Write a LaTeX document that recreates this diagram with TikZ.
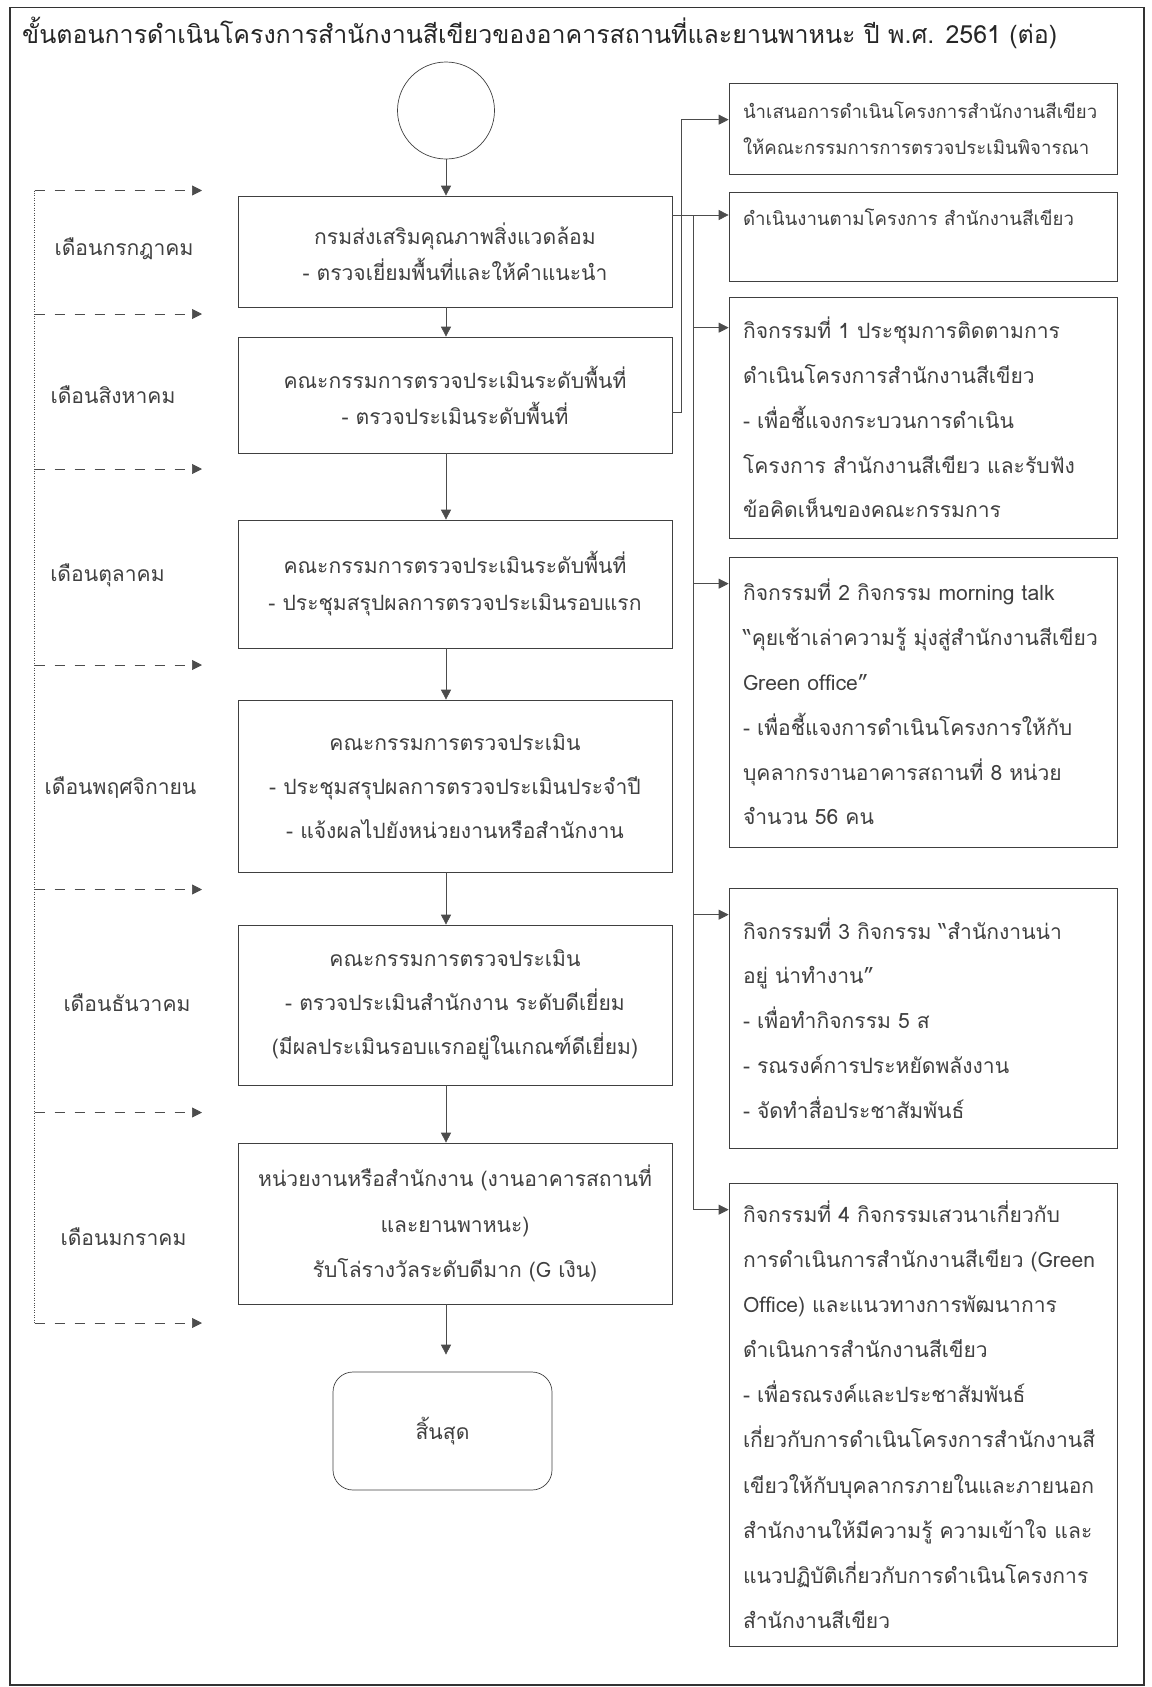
\documentclass[tikz,border=0pt]{standalone}
\usepackage{fontspec}
\newfontfamily\thaifont[Script=Thai]{Loma}
\usetikzlibrary{arrows.meta}

\begin{document}
\begin{tikzpicture}[
    every node/.style={text=black!75},
    th/.style={font=\thaifont\fontsize{12}{#1}\selectfont},
    thsmall/.style={font=\thaifont\fontsize{10.6}{#1}\selectfont},
    box/.style={draw=black!75, rectangle, align=center, minimum width=8.68cm, th=#1},
    rbox/.style={draw=black!75, rectangle, align=left, text width=7.2cm, inner xsep=0.28cm, th=#1},
    arr/.style={draw=black!70, -{Triangle[length=2mm,width=2mm]}},
    tick/.style={draw=black!70, dash pattern=on 2mm off 2mm, -{Triangle[length=2mm,width=2mm]}},
    month/.style={th=16pt}
  ]
  \useasboundingbox (0,0) rectangle (23.02,-33.74);
  \draw[black!80, line width=0.8pt] (0.2,-0.15) rectangle (22.88,-33.70);

  \node[font=\thaifont\fontsize{14.2}{17}\selectfont, text=black!85, anchor=west] (title) at (0.32,-0.66) {ขั้นตอนการดำเนินโครงการสำนักงานสีเขียวของอาคารสถานที่และยานพาหนะ ปี พ.ศ. 2561 (ต่อ)};

  \node[circle, draw=black!75, minimum size=1.94cm] (start) at (8.92,-2.21) {};

  \node[box=20.5pt, minimum height=2.22cm] (b1) at (9.10,-5.03) {กรมส่งเสริมคุณภาพสิ่งแวดล้อม\\- ตรวจเยี่ยมพื้นที่และให้คำแนะนำ};
  \node[box=20.5pt, minimum height=2.32cm] (b2) at (9.10,-7.90) {คณะกรรมการตรวจประเมินระดับพื้นที่\\- ตรวจประเมินระดับพื้นที่};
  \node[box=21pt, minimum height=2.56cm] (b3) at (9.10,-11.68) {คณะกรรมการตรวจประเมินระดับพื้นที่\\- ประชุมสรุปผลการตรวจประเมินรอบแรก};
  \node[box=25pt, minimum height=3.44cm] (b4) at (9.10,-15.72) {คณะกรรมการตรวจประเมิน\\- ประชุมสรุปผลการตรวจประเมินประจำปี\\- แจ้งผลไปยังหน่วยงานหรือสำนักงาน};
  \node[box=25pt, minimum height=3.20cm] (b5) at (9.10,-20.10) {คณะกรรมการตรวจประเมิน\\- ตรวจประเมินสำนักงาน ระดับดีเยี่ยม\\(มีผลประเมินรอบแรกอยู่ในเกณฑ์ดีเยี่ยม)};
  \node[box=26pt, minimum height=3.22cm] (b6) at (9.10,-24.47) {หน่วยงานหรือสำนักงาน (งานอาคารสถานที่\\และยานพาหนะ)\\รับโล่รางวัลระดับดีมาก (G เงิน)};

  \node[draw=black!75, rounded corners=0.4cm, minimum width=4.38cm, minimum height=2.36cm, th=16pt] (end) at (8.85,-28.62) {สิ้นสุด};

  \draw[arr] (start.south) -- (start.south |- b1.north);
  \draw[arr] (start |- b1.south) -- (start |- b2.north);
  \draw[arr] (start |- b2.south) -- (start |- b3.north);
  \draw[arr] (start |- b3.south) -- (start |- b4.north);
  \draw[arr] (start |- b4.south) -- (start |- b5.north);
  \draw[arr] (start |- b5.south) -- (start |- b6.north);
  \draw[arr, shorten >=0.34cm] (start |- b6.south) -- (start |- end.north);

  % months
  \foreach \y [count=\i] in {-3.81,-6.28,-9.38,-13.30,-17.79,-22.25,-26.46} {
    \coordinate (ta\i) at (0.69,\y);
    \coordinate (tb\i) at (4.04,\y);
    \draw[tick] (ta\i) -- (tb\i);
  }
  \draw[black!70, densely dotted] (ta1) -- (ta7);

  \node[month] (m1) at (2.48,-4.97) {เดือนกรกฎาคม};
  \node[month] (m2) at (2.26,-7.90) {เดือนสิงหาคม};
  \node[month] (m3) at (2.15,-11.51) {เดือนตุลาคม};
  \node[month] (m4) at (2.41,-15.75) {เดือนพฤศจิกายน};
  \node[month] (m5) at (2.54,-20.05) {เดือนธันวาคม};
  \node[month] (m6) at (2.47,-24.74) {เดือนมกราคม};

  % right column
  \node[rbox=20.5pt, thsmall=20.5pt, minimum height=1.82cm] (r0) at (18.46,-2.57) {นำเสนอการดำเนินโครงการสำนักงานสีเขียว\\ให้คณะกรรมการการตรวจประเมินพิจารณา};
  \node[rbox=20pt, thsmall=20pt, text height=0.55cm, text depth=1.0cm, anchor=north] (r1) at (18.46,-3.84) {ดำเนินงานตามโครงการ สำนักงานสีเขียว};
  \node[rbox=25.5pt, minimum height=4.82cm] (r2) at (18.46,-8.35) {กิจกรรมที่ 1 ประชุมการติดตามการ\\ดำเนินโครงการสำนักงานสีเขียว\\- เพื่อชี้แจงกระบวนการดำเนิน\\โครงการ สำนักงานสีเขียว และรับฟัง\\ข้อคิดเห็นของคณะกรรมการ};
  \node[rbox=25.5pt, minimum height=5.80cm] (r3) at (18.46,-14.04) {กิจกรรมที่ 2 กิจกรรม morning talk\\\mbox{“คุยเช้าเล่าความรู้ มุ่งสู่สำนักงานสีเขียว}\\Green office”\\- เพื่อชี้แจงการดำเนินโครงการให้กับ\\บุคลากรงานอาคารสถานที่ 8 หน่วย\\จำนวน 56 คน};
  \node[rbox=25.5pt, minimum height=5.20cm] (r4) at (18.46,-20.36) {กิจกรรมที่ 3 กิจกรรม “สำนักงานน่า\\อยู่ น่าทำงาน”\\- เพื่อทำกิจกรรม 5 ส\\- รณรงค์การประหยัดพลังงาน\\- จัดทำสื่อประชาสัมพันธ์};
  \node[rbox=25.7pt, minimum height=9.26cm] (r5) at (18.46,-28.29) {กิจกรรมที่ 4 กิจกรรมเสวนาเกี่ยวกับ\\การดำเนินการสำนักงานสีเขียว (Green\\Office) และแนวทางการพัฒนาการ\\ดำเนินการสำนักงานสีเขียว\\- เพื่อรณรงค์และประชาสัมพันธ์\\เกี่ยวกับการดำเนินโครงการสำนักงานสี\\เขียวให้กับบุคลากรภายในและภายนอก\\สำนักงานให้มีความรู้ ความเข้าใจ และ\\แนวปฏิบัติเกี่ยวกับการดำเนินโครงการ\\สำนักงานสีเขียว};

  \coordinate (bus1) at (13.62,0);
  \coordinate (bus2) at (13.86,0);
  \coordinate (in0) at ([yshift=-7.4mm]r0.north west);
  \coordinate (in1) at ([yshift=-4.6mm]r1.north west);
  \coordinate (in2) at ([yshift=-6.2mm]r2.north west);
  \coordinate (in3) at ([yshift=-5.4mm]r3.north west);
  \coordinate (in4) at ([yshift=-5.4mm]r4.north west);
  \coordinate (in5) at ([yshift=-5.4mm]r5.north west);

  \draw[arr] ([yshift=-3.4mm]b2.east) -| (bus1 |- in0) -- (in0);
  \draw[arr] (b1.east |- in1) -- (in1);
  \draw[black!70] (bus2 |- in1) -- (bus2 |- in5);
  \foreach \n in {2,3,4,5}
    \draw[arr] (bus2 |- in\n) -- (in\n);
\end{tikzpicture}
\end{document}
